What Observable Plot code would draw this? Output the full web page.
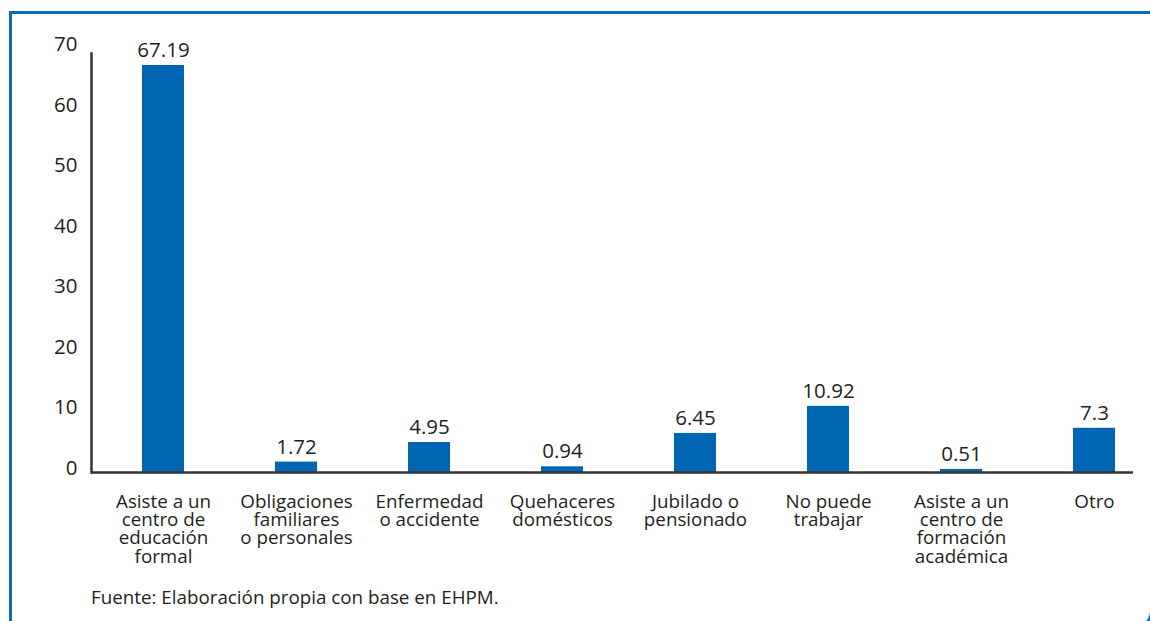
<!DOCTYPE html>
<html>
<head>
<meta charset="utf-8">
<script src="https://cdn.jsdelivr.net/npm/d3@7"></script>
<script src="https://cdn.jsdelivr.net/npm/@observablehq/plot@0.6"></script>
<style>
  html, body { margin: 0; padding: 0; background: #fff; }
  #wrap { position: relative; width: 1150px; height: 621px; overflow: hidden; font-family: "Open Sans", sans-serif; }
  #chart { position: absolute; left: 0; top: 0; }
  #frame { position: absolute; left: 8.5px; top: 10.5px; width: 1200px; height: 700px; border-top: 3px solid #0e6bb8; border-left: 3px solid #0e6bb8; box-sizing: border-box; }
  #corner { position: absolute; left: 1095px; top: 566px; width: 58px; height: 63px; border-right: 3px solid #0e6bb8; border-bottom: 3px solid #0e6bb8; border-bottom-right-radius: 18px; box-sizing: border-box; clip-path: polygon(80% 70%, 100% 70%, 100% 100%, 80% 100%); }
  #caption { position: absolute; left: 91px; top: 584px; font-size: 18.8px; line-height: 26px; color: #231f20; }
</style>
</head>
<body>
<div id="wrap">
  <div id="frame"></div>
  <div id="corner"></div>
  <div id="chart"></div>
  <div id="caption">Fuente: Elaboración propia con base en EHPM.</div>
</div>
<script>
const categories = [
  "Asiste a un\ncentro de\neducación\nformal",
  "Obligaciones\nfamiliares\no personales",
  "Enfermedad\no accidente",
  "Quehaceres\ndomésticos",
  "Jubilado o\npensionado",
  "No puede\ntrabajar",
  "Asiste a un\ncentro de\nformación\nacadémica",
  "Otro"
];
const values = [67.19, 1.72, 4.95, 0.94, 6.45, 10.92, 0.51, 7.3];
const valueLabels = ["67.19", "1.72", "4.95", "0.94", "6.45", "10.92", "0.51", "7.3"];
const yTicks = [0, 10, 20, 30, 40, 50, 60, 70];

const data = categories.map((c, i) => ({cat: c, value: values[i], label: valueLabels[i]}));

const chart = Plot.plot({
  width: 1150,
  height: 580,
  marginLeft: 91,
  marginRight: 17,
  marginTop: 53,
  marginBottom: 108,
  style: {fontFamily: "'Open Sans', sans-serif", color: "#231f20", background: "transparent", overflow: "visible"},
  x: {domain: categories, range: [95.4, 1161], paddingInner: 0.685, paddingOuter: 0.3425, label: null},
  y: {domain: [0, 70], range: [472, 48], label: null},
  marks: [
    Plot.barY(data, {x: "cat", y: "value", fill: "#0066b3"}),
    Plot.text(data, {x: "cat", y: "value", text: "label", dy: -15, fontSize: 20.5, fill: "#231f20"}),
    Plot.axisY({ticks: yTicks, tickSize: 0, tickPadding: 14, dy: -4, fontSize: 20.5, label: null, fill: "#231f20"}),
    Plot.axisX({tickSize: 0, tickPadding: 22, fontSize: 18.8, lineHeight: 0.975, label: null, fill: "#231f20"}),
    Plot.frame({anchor: "left", stroke: "#333", strokeWidth: 2.5}),
    Plot.ruleY([0], {stroke: "#333", strokeWidth: 2.5})
  ]
});
document.getElementById("chart").appendChild(chart);
</script>
</body>
</html>
